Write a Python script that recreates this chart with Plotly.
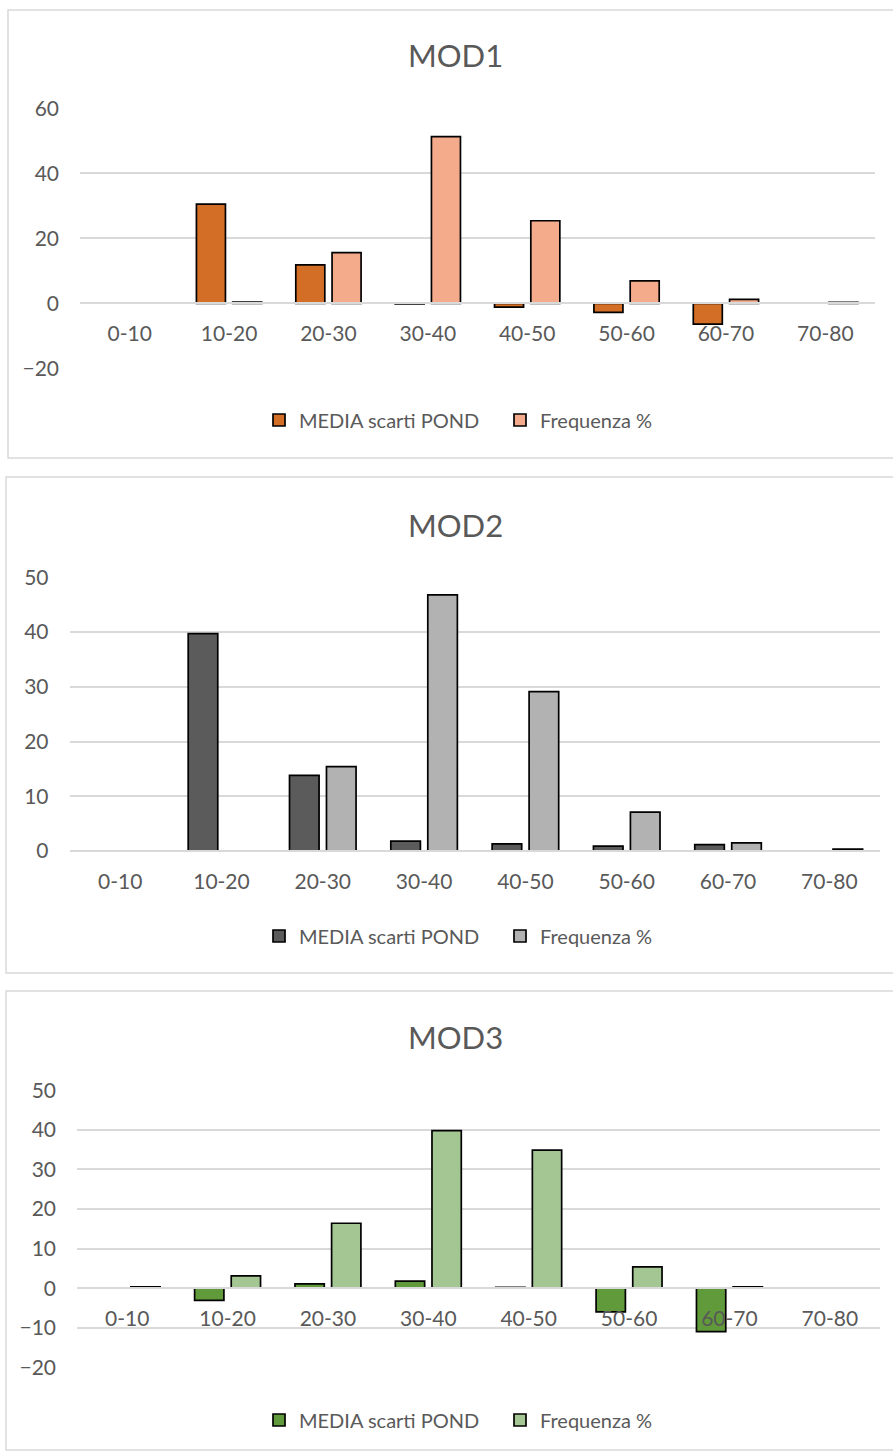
import plotly.graph_objects as go

# Age bands shared by the three panels
categories = ["0-10", "10-20", "20-30", "30-40", "40-50", "50-60", "60-70", "70-80"]

# MOD1
mod1_media = [None, 30.5, 11.8, -0.2, -1.2, -2.8, -6.4, None]
mod1_freq = [None, 0.4, 15.6, 51.3, 25.4, 6.9, 1.2, 0.3]

# MOD2
mod2_media = [None, 39.7, 13.8, 1.8, 1.3, 0.9, 1.15, None]
mod2_freq = [None, None, 15.4, 46.8, 29.1, 7.1, 1.5, 0.35]

# MOD3
mod3_media = [None, -3.1, 1.1, 1.8, 0.2, -6.0, -11.0, None]
mod3_freq = [0.3, 3.1, 16.4, 39.8, 34.9, 5.4, 0.3, None]

W, H = 893, 1451
FONT = "Lato"
TXT = "#595959"
GRID = "#D9D9D9"


def px_x(p):
    return p / W


def px_y(p):
    return 1 - p / H


panels = [
    dict(name="MOD1", media=mod1_media, freq=mod1_freq,
         c_dark="#D26E26", c_light="#F4AB8C",
         box=(8, 10, 896, 458), plot=(80, 108.3, 875, 368.3),
         yrange=[-20, 60], dtick=20, title_y=55, legend_y=420),
    dict(name="MOD2", media=mod2_media, freq=mod2_freq,
         c_dark="#5B5B5B", c_light="#B2B2B2",
         box=(6, 477, 896, 973), plot=(69.5, 577.3, 880, 851),
         yrange=[0, 50], dtick=10, title_y=525, legend_y=936),
    dict(name="MOD3", media=mod3_media, freq=mod3_freq,
         c_dark="#609A3A", c_light="#A4C692",
         box=(6, 991, 896, 1450), plot=(77, 1090.3, 880, 1367.3),
         yrange=[-20, 50], dtick=10, title_y=1037, legend_y=1420),
]

fig = go.Figure()
layout = dict(
    template="none",
    width=W, height=H,
    margin=dict(l=0, r=0, t=0, b=0, autoexpand=False),
    paper_bgcolor="white", plot_bgcolor="white",
    barmode="group", bargap=0.27, bargroupgap=0.2,
    font=dict(family=FONT, color=TXT, size=20),
    shapes=[], annotations=[],
)

for i, p in enumerate(panels, start=1):
    sfx = "" if i == 1 else str(i)
    xa, ya = "x" + sfx, "y" + sfx
    leg = "legend" + sfx
    for label, vals, col in (("MEDIA scarti POND", p["media"], p["c_dark"]),
                             ("Frequenza %", p["freq"], p["c_light"])):
        fig.add_trace(go.Bar(
            x=categories, y=vals, name=label, xaxis=xa, yaxis=ya, legend=leg,
            marker=dict(color=col, line=dict(color="black", width=1.7)),
        ))

    x0, y0, x1, y1 = p["plot"]
    ydom = [px_y(y1), px_y(y0)]
    r0, r1 = p["yrange"]
    zero_pos = ydom[0] + (0 - r0) / (r1 - r0) * (ydom[1] - ydom[0])

    layout["xaxis" + sfx] = dict(
        domain=[px_x(x0), px_x(x1)], anchor="free", position=zero_pos,
        type="category", showgrid=False, zeroline=False, automargin=False,
        showline=True, linecolor=GRID, linewidth=1.5, layer="above traces",
        ticks="", ticklabelstandoff=12,
        tickfont=dict(family=FONT, size=21, color=TXT),
    )
    layout["yaxis" + sfx] = dict(
        domain=ydom, anchor=xa, range=p["yrange"], dtick=p["dtick"],
        showgrid=True, gridcolor=GRID, gridwidth=1.5, zeroline=False,
        showline=False, ticks="", ticklabelstandoff=20, automargin=False,
        tickfont=dict(family=FONT, size=21, color=TXT),
    )
    layout[leg] = dict(
        orientation="h", x=px_x(500), xanchor="center",
        y=px_y(p["legend_y"]), yanchor="middle",
        entrywidth=196,
        font=dict(family=FONT, size=20, color=TXT),
        bgcolor="rgba(0,0,0,0)",
    )

    bx0, by0, bx1, by1 = p["box"]
    layout["shapes"].append(dict(
        type="rect", xref="paper", yref="paper",
        x0=px_x(bx0), x1=px_x(bx1), y0=px_y(by1), y1=px_y(by0),
        line=dict(color=GRID, width=1.5), layer="below",
    ))
    layout["annotations"].append(dict(
        text=p["name"], xref="paper", yref="paper",
        x=px_x(456), y=px_y(p["title_y"]), xanchor="center", yanchor="middle",
        showarrow=False, font=dict(family=FONT, size=31, color=TXT),
    ))

fig.update_layout(**layout)
fig.write_html("out.html")
